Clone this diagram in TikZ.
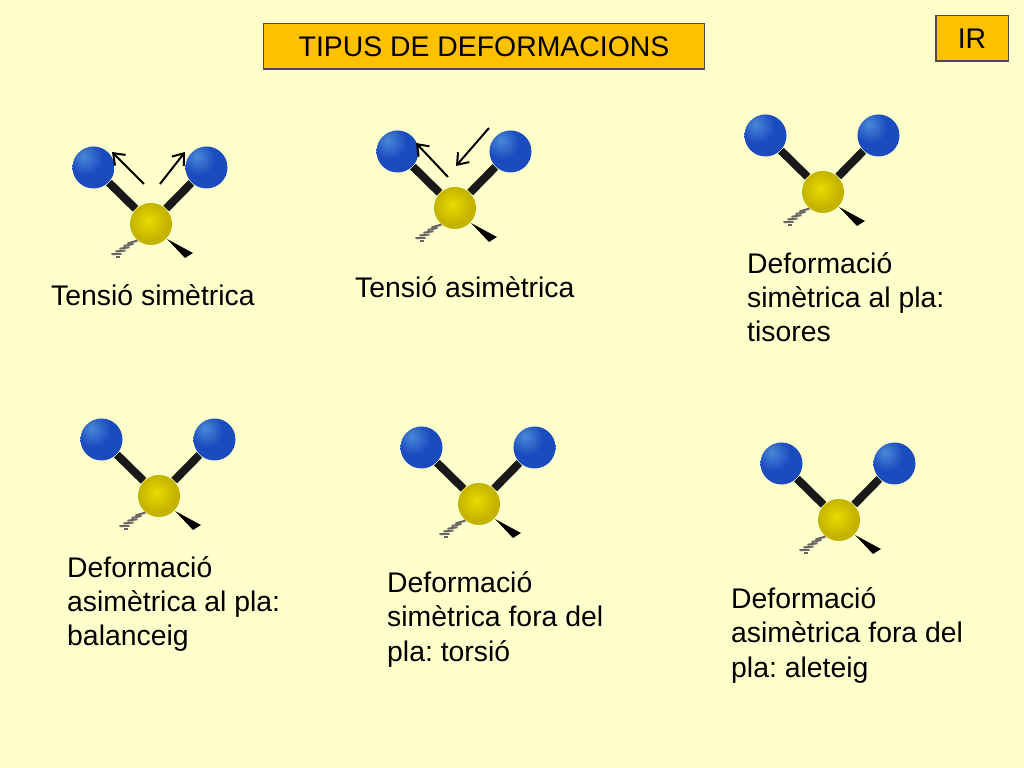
\documentclass[tikz,border=0pt]{standalone}
\usepackage{fontspec}
\setmainfont{Liberation Sans}
\usetikzlibrary{backgrounds,calc,arrows.meta}
\definecolor{paper}{HTML}{FFFFCC}
\definecolor{titlefill}{HTML}{FFC000}
\definecolor{bluelight}{HTML}{4C88D8}
\definecolor{bluedark}{HTML}{1A4CC0}
\definecolor{yellowlight}{HTML}{E8DC00}
\definecolor{yellowdark}{HTML}{C4B400}
\pgfdeclareradialshading{blueball}{\pgfpoint{-12bp}{14bp}}{%
  color(0bp)=(bluelight);color(20bp)=(bluedark);color(100bp)=(bluedark)}
\pgfdeclareradialshading{yellowball}{\pgfpoint{-3bp}{4bp}}{%
  color(0bp)=(yellowlight);color(22bp)=(yellowdark);color(100bp)=(yellowdark)}
\tikzset{
  atomblue/.style={circle,minimum size=0.42cm,inner sep=0pt,shading=blueball},
  atomyellow/.style={circle,minimum size=0.42cm,inner sep=0pt,shading=yellowball},
  bond/.style={line width=0.8mm,color=black!90},
  label/.style={anchor=west,align=left,inner sep=0pt,font=\fontsize{8.07}{9.67}\selectfont},
  box/.style={draw=black!70,line width=0.3pt,fill=titlefill,inner sep=0pt,font=\fontsize{8.07}{9.67}\selectfont},
  move/.style={-{Straight Barb[length=1mm,width=1.5mm]},line width=0.2mm},
  hash/.style={line width=0.2mm,color=black!60},
  molecule/.pic={
    \node[atomblue] (-l) at (-57.5,-56.5) {};
    \node[atomblue] (-r) at (55.5,-56.5) {};
    \node[atomyellow] (-c) at (0,0) {};
    \begin{scope}[on background layer]
      \draw[bond] (-l) -- (-c);
      \draw[bond] (-r) -- (-c);
    \end{scope}
    \fill[black] (16,15) -- (42,29) -- (34,34) -- cycle;
    \foreach \i in {0,1,2,3,4}
      \draw[hash] ($(-18.5-4*\i,18+3*\i)+(-5,1.4-0.3*\i)$) -- ($(-18.5-4*\i,18+3*\i)+(5,-1.4+0.3*\i)$);
    \draw[hash] (-35,33.5) -- (-31,33.5);
  }
}
\frenchspacing
\begin{document}
\begin{tikzpicture}[x=0.01cm,y=-0.01cm]
\begin{scope}[on background layer]
\fill[paper] (0,0) rectangle (1024,768);
\end{scope}
\useasboundingbox (0,0) rectangle (1024,768);
% title and corner tag
\node[box,minimum width=4.4cm,minimum height=0.45cm] (title) at (484,46.5) {TIPUS DE DEFORMACIONS};
\node[box,minimum width=0.72cm,minimum height=0.45cm] (tag) at (972,38.5) {IR};
% molecules
\pic (m1) at (151,224) {molecule};
\pic (m2) at (455,208) {molecule};
\pic (m3) at (823,192) {molecule};
\pic (m4) at (159,496) {molecule};
\pic (m5) at (479,504) {molecule};
\pic (m6) at (839,520) {molecule};
% movement arrows
\coordinate (a1) at (144,184); \coordinate (b1) at (112,152);
\coordinate (a2) at (160,184); \coordinate (b2) at (185,152);
\coordinate (a3) at (448,177); \coordinate (b3) at (416,143);
\coordinate (a4) at (489,128); \coordinate (b4) at (456,166);
\foreach \i in {1,2,3,4}
  \draw[move] (a\i) -- (b\i);
% labels
\node[label] (l1) at (50.5,295) {Tensió simètrica};
\node[label] (l2) at (354.5,287) {Tensió asimètrica};
\node[label] (l3) at (746.5,297) {Deformació\\simètrica al pla:\\tisores};
\node[label] (l4) at (66.5,604.5) {Deformació\\asimètrica al pla:\\balanceig};
\node[label] (l5) at (386.5,619.5) {Deformació\\simètrica fora del\\pla: torsió};
\node[label] (l6) at (730.5,635.5) {Deformació\\asimètrica fora del\\pla: aleteig};
\end{tikzpicture}
\end{document}
